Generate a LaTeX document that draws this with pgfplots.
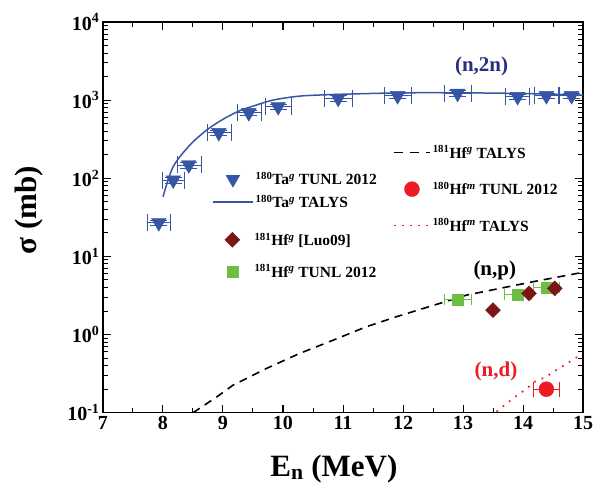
\documentclass[border=0pt]{standalone}
\usepackage{fontspec}
\setmainfont{Liberation Serif}
\usepackage{pgfplots}
\pgfplotsset{compat=1.18}
\usetikzlibrary{calc}
\definecolor{tablue}{RGB}{55,85,165}
\definecolor{hfred}{RGB}{125,20,22}
\definecolor{hfgreen}{RGB}{108,190,69}
\definecolor{mred}{RGB}{237,28,36}
\definecolor{navy}{RGB}{40,45,125}
\newcommand{\sps}[1]{\textsuperscript{#1}}
\newcommand{\tfont}{\fontsize{20}{20}\selectfont\bfseries}
\newcommand{\lfont}{\fontsize{31}{31}\selectfont\bfseries}
\pgfplotsset{
  legax/.style={scale only axis, width=480pt, height=390.7pt,
    xmin=7, xmax=15, ymin=0.1, ymax=10000, hide axis,
    legend cell align=left,
    legend style={draw=none, fill=none, inner sep=0pt,
      font=\fontsize{15.5}{17}\selectfont\bfseries,
      /tikz/every even column/.append style={column sep=3pt}}},
}

\pgfplotstableread{
x y ex ey
7.93 27 0.19 2
8.17 95 0.19 8
8.43 148 0.2 12
8.93 384 0.2 30
9.43 691 0.2 55
9.92 824 0.22 65
10.92 1055 0.24 85
11.91 1140 0.22 90
12.91 1222 0.22 100
13.91 1107 0.2 90
14.39 1140 0.2 90
14.81 1140 0.2 90
}\taTUNL
\pgfplotstableread{
x y ex
12.91 2.83 0.22
13.91 3.27 0.22
14.39 4.03 0.22
}\hfTUNL
\pgfplotstableread{
x y
13.5 2.06
14.1 3.37
14.53 3.9
}\hfLuo
\pgfplotstableread{
x y ex
14.39 0.20 0.22
}\hfmTUNL

\begin{document}
\begin{tikzpicture}
\begin{axis}[scale only axis, width=480pt, height=390.7pt,
  xmin=7, xmax=15, ymode=log, ymin=0.1, ymax=10000, name=ax,
  xtick={7,8,...,15}, minor x tick num=1,
  ytick={0.1,1,10,100,1000,10000},
  yticklabels={10\sps{-1},10\sps{0},10\sps{1},10\sps{2},10\sps{3},10\sps{4}},
  minor ytick={0.2,0.3,0.4,0.5,0.6,0.7,0.8,0.9,2,3,4,5,6,7,8,9,20,30,40,50,60,70,80,90,200,300,400,500,600,700,800,900,2000,3000,4000,5000,6000,7000,8000,9000},
  major tick length=8pt, minor tick length=5pt,
  axis line style={line width=1.5pt},
  every tick/.style={line width=1pt, black},
  xticklabel style={font=\tfont},
  yticklabel style={font=\tfont},
  /pgf/number format/assume math mode=true,
  xlabel={E\textsubscript{n} (MeV)},
  ylabel={σ (mb)},
  xlabel style={font=\lfont, at={(axis description cs:0.481,0)}, anchor=base, yshift=-63.5pt},
  ylabel style={font=\lfont, at={(axis description cs:-0.154,0.519)}, anchor=center},
]
% TALYS curves
\addplot[black, line width=1.6pt, dash pattern=on 8pt off 6pt] coordinates {
(8.5,0.1) (8.9,0.16) (9.17,0.226) (9.73,0.37) (10.28,0.575) (10.84,0.85)
(11.39,1.26) (11.9,1.70) (13.06,3.2) (14.17,4.75) (14.92,6.1) (15,6.2)};
\addplot[mred, line width=1.7pt, dash pattern=on 1.7pt off 6.3pt] coordinates {
(13.56,0.103) (13.73,0.132) (13.87,0.160) (14.03,0.195) (14.2,0.25) (14.39,0.289)
(14.53,0.342) (14.7,0.41) (14.87,0.50) (15,0.56)};
\addplot[tablue, line width=1.5pt, smooth] coordinates {
(8.0,58) (8.17,141) (8.45,267) (8.73,415) (9.0,569) (9.28,733) (9.56,867)
(9.84,1004) (10.3,1130) (11,1190) (12,1240) (13,1240) (14,1215) (15,1160)};
% data
\addplot[only marks, mark=triangle*, mark size=8.5pt, color=tablue,
  mark options={rotate=180, fill=tablue, draw=tablue},
  error bars/.cd, x dir=both, x explicit, y dir=both, y explicit,
  error bar style={line width=0.7pt, tablue}]
  table[x=x, y=y, x error=ex, y error=ey] {\taTUNL};
\addplot[only marks, mark=square*, mark size=5.5pt, color=hfgreen,
  mark options={fill=hfgreen, draw=hfgreen},
  error bars/.cd, x dir=both, x explicit,
  error bar style={line width=0.7pt, hfgreen}]
  table[x=x, y=y, x error=ex] {\hfTUNL};
\addplot[only marks, mark=square*, mark size=5.3pt, color=hfred,
  mark options={fill=hfred, draw=hfred, rotate=45}]
  table[x=x, y=y] {\hfLuo};
\addplot[only marks, mark=*, mark size=7.5pt, color=mred,
  mark options={fill=mred, draw=mred},
  error bars/.cd, x dir=both, x explicit,
  error bar style={line width=0.7pt, mred}]
  table[x=x, y=y, x error=ex] {\hfmTUNL};
% annotations
\node[font=\fontsize{21}{21}\selectfont\bfseries, text=navy] at (axis cs:13.31,2680) {(n,2n)};
\node[font=\fontsize{21}{21}\selectfont\bfseries, text=black] at (axis cs:13.53,6.7) {(n,p)};
\node[font=\fontsize{21}{21}\selectfont\bfseries, text=mred] at (axis cs:13.55,0.335) {(n,d)};
\end{axis}
% legend: rows 1-2
\begin{axis}[legax,
  legend style={row sep=5pt, at={(axis description cs:0.227,0.621)}, anchor=north west},
  legend image code/.code={\path (0pt,0pt) -- (40pt,0pt);
    \draw[mark repeat=2,mark phase=2,#1] plot coordinates {(0pt,0pt)(20pt,0pt)(40pt,0pt)};},
]
\addplot[draw=none, forget plot] coordinates {(7,1)};
\addlegendimage{draw=none, draw opacity=0, mark=triangle*, mark size=8pt, mark options={rotate=180, fill=tablue, draw=tablue, draw opacity=1}}
\addlegendentry{\sps{180}Ta\sps{\itshape g} TUNL 2012}
\addlegendimage{tablue, line width=1.5pt}
\addlegendentry{\sps{180}Ta\sps{\itshape g} TALYS}
\end{axis}
% legend: rows 3-4
\begin{axis}[legax,
  legend style={row sep=14pt, at={(axis description cs:0.227,0.466)}, anchor=north west},
  legend image code/.code={\path (0pt,0pt) -- (40pt,0pt);
    \draw[mark repeat=2,mark phase=2,#1] plot coordinates {(0pt,0pt)(20pt,0pt)(40pt,0pt)};},
]
\addplot[draw=none, forget plot] coordinates {(7,1)};
\addlegendimage{draw=none, draw opacity=0, mark=square*, mark size=5.3pt, mark options={fill=hfred, draw=hfred, rotate=45, draw opacity=1}}
\addlegendentry{\sps{181}Hf\sps{\itshape g} [Luo09]}
\addlegendimage{draw=none, draw opacity=0, mark=square*, mark size=5.5pt, mark options={fill=hfgreen, draw=hfgreen, draw opacity=1}}
\addlegendentry{\sps{181}Hf\sps{\itshape g} TUNL 2012}
\end{axis}
% legend: right group
\begin{axis}[legax,
  legend style={row sep=18.5pt, at={(axis description cs:0.604,0.689)}, anchor=north west},
  legend image code/.code={\path (0pt,0pt) -- (36pt,0pt);
    \draw[mark repeat=2,mark phase=2,#1] plot coordinates {(0pt,0pt)(18pt,0pt)(36pt,0pt)};},
]
\addplot[draw=none, forget plot] coordinates {(7,1)};
\addlegendimage{black, line width=1.6pt, dash pattern=on 9pt off 7pt}
\addlegendentry{\sps{181}Hf\sps{\itshape g} TALYS}
\addlegendimage{draw=none, draw opacity=0, mark=*, mark size=7.5pt, mark options={fill=mred, draw=mred, draw opacity=1}}
\addlegendentry{\sps{180}Hf\sps{\itshape m} TUNL 2012}
\addlegendimage{mred, line width=1.7pt, dash pattern=on 1.7pt off 6.3pt}
\addlegendentry{\sps{180}Hf\sps{\itshape m} TALYS}
\end{axis}
\pgfresetboundingbox
\path[use as bounding box] ($(ax.south west)+(-103pt,-72.3pt)$) rectangle ($(ax.north east)+(21pt,22pt)$);
\end{tikzpicture}
\end{document}
